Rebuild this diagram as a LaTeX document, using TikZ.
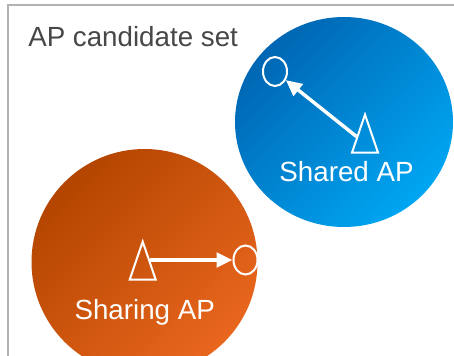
\documentclass[tikz,border=0pt]{standalone}
\usepackage{fontspec}
\setmainfont{Liberation Sans}
\usetikzlibrary{arrows.meta,positioning,calc,shapes.geometric}
\definecolor{apblue}{HTML}{0066B3}
\definecolor{apblueL}{HTML}{00A6F2}
\definecolor{aporange}{HTML}{B34500}
\definecolor{aporangeL}{HTML}{E9661D}
\definecolor{apframe}{HTML}{B3B3B3}
\definecolor{aptext}{HTML}{474747}

\begin{document}
\begin{tikzpicture}[x=0.75pt, y=-0.75pt,
  area/.style={ellipse, inner sep=0pt, shading angle=45},
  tri/.style={draw=white, line width=1.5pt, isosceles triangle,
    isosceles triangle stretches, shape border rotate=90, inner sep=0pt,
    minimum width=19.5pt, minimum height=28.5pt, anchor=apex},
  sta/.style={draw=white, line width=1.5pt, ellipse, inner sep=0pt,
    minimum width=18pt, minimum height=21.75pt},
  lnk/.style={-{Triangle[length=12pt, width=11pt]}, white, line width=2.6pt},
  lbl/.style={font=\fontsize{20.8pt}{24pt}\selectfont, text=white,
    anchor=base, inner sep=0pt},
]
\path[use as bounding box, clip] (0,0) rectangle (454,356);
\draw[apframe, line width=1.5pt] (7.5,5.5) rectangle (480,380);
\node[font=\fontsize{20.8pt}{24pt}\selectfont, text=aptext, anchor=base west,
  inner sep=0pt] (title) at (28,47) {AP candidate set};
% shared side
\node[area, top color=apblue, bottom color=apblueL, shading angle=45,
  minimum width=163.5pt, minimum height=157.5pt] (shared) at (344,122) {};
\node[tri] (sdap) at (365,112) {};
\node[sta] (ssta) at (275,71.5) {};
\draw[lnk] (sdap) -- (ssta);
\node[lbl] (sdlbl) at (346.5,182) {Shared AP};
% sharing side
\node[area, top color=aporange, bottom color=aporangeL, shading angle=45,
  minimum size=169.5pt] (sharing) at (144.5,262) {};
\node[tri] (sgap) at (142.7,239) {};
\node[sta] (ssta2) at (245.5,260) {};
\draw[lnk, shorten <=5.4pt] (sgap.apex |- ssta2) -- (ssta2);
\node[lbl] (sglbl) at (144.7,320) {Sharing AP};
\end{tikzpicture}
\end{document}
